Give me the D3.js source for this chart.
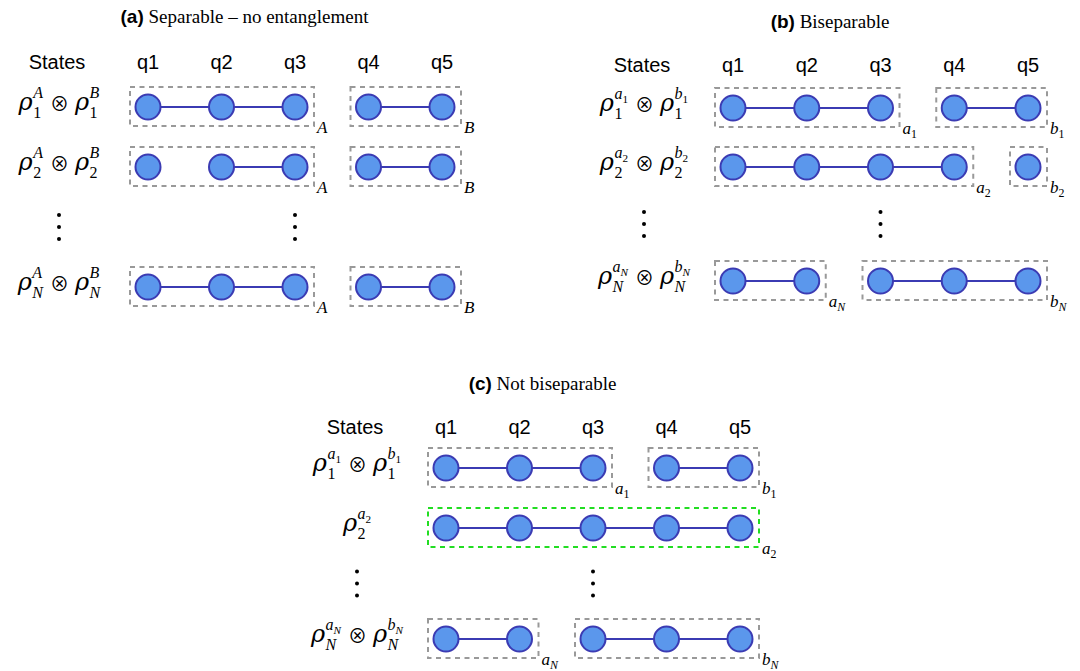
<!DOCTYPE html>
<html><head><meta charset="utf-8">
<script src="https://cdn.jsdelivr.net/npm/d3@7"></script>
<style>body{margin:0;background:#fff}</style>
</head><body>
<script>
// ---------- data ----------
const qubits = ["q1","q2","q3","q4","q5"];
const panelKeys = ["(a)","(b)","(c)"];
const panelTitles = ["Separable – no entanglement","Biseparable","Not biseparable"];
const stateRows = ["1","2","N"];
const partyIndexed = [false, true, true];
// groups per row: [first qubit, last qubit, party]
const groupsA = [[[0,2,"A"],[3,4,"B"]], [[0,2,"A"],[3,4,"B"]], [[0,2,"A"],[3,4,"B"]]];
const linksA  = [[[0,1],[1,2],[3,4]], [[1,2],[3,4]], [[0,1],[1,2],[3,4]]];
const groupsB = [[[0,2,"a"],[3,4,"b"]], [[0,3,"a"],[4,4,"b"]], [[0,1,"a"],[2,4,"b"]]];
const linksB  = [[[0,1],[1,2],[3,4]], [[0,1],[1,2],[2,3]], [[0,1],[2,3],[3,4]]];
const groupsC = [[[0,2,"a"],[3,4,"b"]], [[0,4,"a"]], [[0,1,"a"],[2,4,"b"]]];
const linksC  = [[[0,1],[1,2],[3,4]], [[0,1],[1,2],[2,3],[3,4]], [[0,1],[2,3],[3,4]]];
const panelGroups = [groupsA, groupsB, groupsC];
const panelLinks = [linksA, linksB, linksC];

// ---------- layout ----------
const layout = [
  {x:[148,442], head:62, title:17, rows:[107,167,287]},
  {x:[733,1028], head:65, title:22, rows:[108,167,281]},
  {x:[446,740], head:427, title:384, rows:[468,528,639]}
];
const SANS = "'Liberation Sans', Arial, sans-serif";
const SERIF = "'Liberation Serif', 'Times New Roman', serif";
const R = 12.5;
const FILL = "#5b97ec", EDGE = "#3b3bb3";

const svg = d3.select("body").append("svg").attr("width",1080).attr("height",671);

function partyText(parent, x, y, letter, idx, size){
  const t = parent.append("text").attr("x",x).attr("y",y)
    .attr("font-family",SERIF).attr("font-size",size);
  t.append("tspan").attr("font-style","italic").text(letter);
  if(idx){
    t.append("tspan").attr("font-size",size*0.7)
      .attr("font-style", idx==="N" ? "italic" : "normal")
      .attr("dy", size*0.25).text(idx);
  }
  return t;
}

function mathLabel(parent, terms, cx, rowY){
  const g = parent.append("g");
  const B = rowY + 3;
  let x = 0;
  terms.forEach((term,i)=>{
    if(i>0){
      x += 7;
      const op = g.append("text").attr("x",x).attr("y",B+1)
        .attr("font-family","'Noto Sans CJK JP', 'DejaVu Sans', sans-serif").attr("font-size",19).text("⊗");
      x += op.node().getComputedTextLength() + 6;
    }
    const rho = g.append("text").attr("x",x).attr("y",B)
      .attr("font-family","'DejaVu Serif', serif").attr("font-style","italic").attr("font-size",24).text("ρ");
    x += rho.node().getComputedTextLength() + 0.5;
    const sup = partyText(g, x, B-12, term.letter, term.idx, 16);
    const sub = g.append("text").attr("x",x).attr("y",B+8)
      .attr("font-family",SERIF).attr("font-size",16)
      .attr("font-style", term.row==="N" ? "italic":"normal").text(term.row);
    const w = Math.max(sup.node().getComputedTextLength(), sub.node().getComputedTextLength());
    x += w;
  });
  g.attr("transform",`translate(${cx - x/2},0)`);
}

function dots(parent, cx, cy){
  parent.selectAll(null).data([-12,0,12]).enter().append("circle")
    .attr("cx",cx).attr("cy",d=>cy+d).attr("r",2).attr("fill","#000");
}

panelKeys.forEach((key,p)=>{
  const L = layout[p];
  const g = svg.append("g");
  const xs = d3.scalePoint().domain(d3.range(qubits.length)).range(L.x);
  const ys = d3.scaleOrdinal().domain(stateRows).range(L.rows);
  const statesX = L.x[0] - 91;
  const left = statesX - 29, right = L.x[1] + 19;

  // title
  const t = g.append("text").attr("x",(left+right)/2).attr("y",L.title+6)
    .attr("text-anchor","middle").attr("font-size",19);
  t.append("tspan").attr("font-family",SANS).attr("font-weight","bold").text(key);
  t.append("tspan").attr("font-family",SERIF).text(" " + panelTitles[p]);

  // header
  g.append("text").attr("x",statesX).attr("y",L.head+7).attr("text-anchor","middle")
    .attr("font-family",SANS).attr("font-size",20).text("States");
  g.selectAll(".qh").data(qubits).enter().append("text")
    .attr("x",(d,i)=>xs(i)).attr("y",L.head+7).attr("text-anchor","middle")
    .attr("font-family",SANS).attr("font-size",20).text(d=>d);

  stateRows.forEach((r,ri)=>{
    const y = ys(r);
    const groups = panelGroups[p][ri];
    const links = panelLinks[p][ri];
    // boxes
    groups.forEach(([a,b,party])=>{
      const full = (b-a+1)===qubits.length;
      const x0 = xs(a)-18, x1 = xs(b)+19;
      g.append("rect").attr("x",x0).attr("y",y-20).attr("width",x1-x0).attr("height",39)
        .attr("fill","none").attr("stroke", full ? "#22dd22" : "#999")
        .attr("stroke-width",2).attr("stroke-dasharray","5,4.5");
      partyText(g, x1+3, y+26, party, partyIndexed[p] ? r : null, 17);
    });
    // links
    g.selectAll(null).data(links).enter().append("line")
      .attr("x1",d=>xs(d[0])).attr("x2",d=>xs(d[1])).attr("y1",y).attr("y2",y)
      .attr("stroke",EDGE).attr("stroke-width",2.2);
    // qubits
    g.selectAll(null).data(groups.flatMap(([a,b])=>d3.range(a,b+1))).enter().append("circle")
      .attr("cx",d=>xs(d)).attr("cy",y).attr("r",R)
      .attr("fill",FILL).attr("stroke",EDGE).attr("stroke-width",2);
    // label
    const terms = groups.map(([a,b,party])=>({letter:party, idx: partyIndexed[p]? r : null, row:r}));
    mathLabel(g, terms, statesX+2, y);
  });
  const dy = (ys("2")+ys("N"))/2;
  dots(g, statesX+2, dy);
  dots(g, xs(2), dy);
});
</script>
</body></html>
